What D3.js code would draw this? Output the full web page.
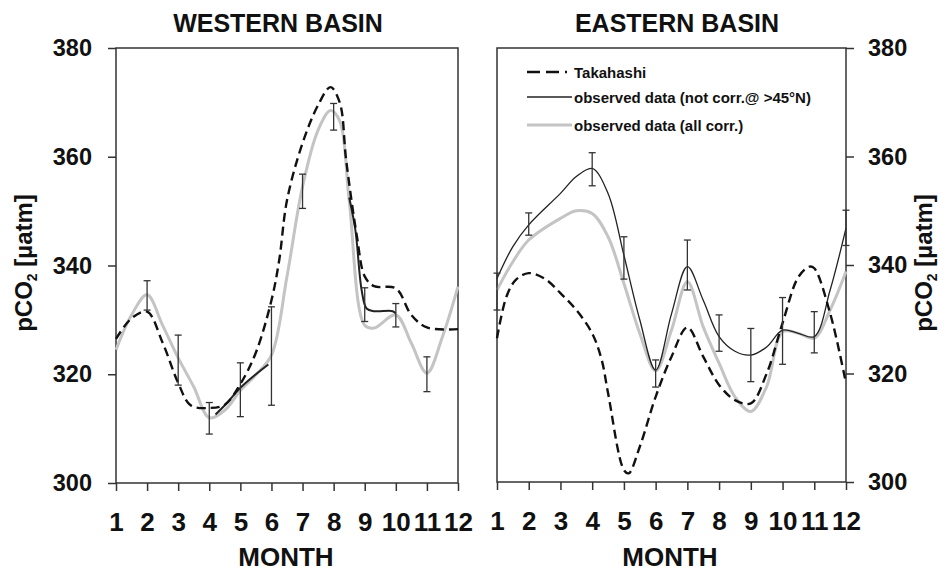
<!DOCTYPE html>
<html>
<head>
<meta charset="utf-8">
<script src="https://cdn.jsdelivr.net/npm/d3@7"></script>
<style>
  body { margin: 0; background: #fff; }
  svg { display: block; }
  text { font-family: 'Liberation Sans', Arial, sans-serif; font-weight: bold; fill: #111; }
</style>
</head>
<body>
<svg id="chart" width="940" height="573"></svg>
<script>
// month ticks and pCO2 ticks
const months = d3.range(1, 13);
const pco2Ticks = [300, 320, 340, 360, 380];

// WESTERN BASIN, [month, pCO2]
const westTakahashi = [[1, 326.5], [1.5, 330.3], [2, 331.5], [2.5, 325.8], [3, 318.4], [3.4, 314.3], [4, 313.8],
  [4.5, 314.4], [5, 318.2], [5.5, 324], [6, 333.6], [6.25, 341], [6.5, 352], [7, 362.5], [7.5, 369.5], [7.9, 372.8],
  [8.2, 369.9], [8.4, 359.5], [8.75, 345.3], [9, 338], [9.3, 336.2], [10, 335.8], [10.5, 330.9], [11, 328.6], [12, 328.3]];
const westAllCorr = [[1, 324.5], [1.5, 330.9], [2, 334.6], [2.5, 329], [3, 323], [3.5, 317.7], [4, 312], [4.5, 313.4],
  [5, 317], [5.5, 319.9], [6, 323.5], [6.5, 338], [7, 354.5], [7.5, 364.9], [7.9, 368.5], [8.2, 366.5], [8.5, 352],
  [9, 329], [9.3, 328.5], [10, 330.9], [10.5, 325.7], [11, 320.2], [11.5, 326.9], [12, 336.1]];
// not corrected data only shows where it leaves the corrected curve
const westNotCorr = [
  [[4.2, 312.6], [4.5, 314.3], [5, 317.5], [5.5, 320], [5.9, 321.8]],
  [[8.5, 352.5], [8.7, 346.5], [8.9, 335.5], [9.06, 332.1], [9.3, 331.6], [9.9, 331.6], [10, 331.2]]
];
const westErrMonth = [2, 3, 4, 5, 6, 7, 8, 9, 10, 11];
const westErrLow = [331.8, 318, 309, 312.2, 314.3, 350.5, 364.9, 329.7, 328.7, 316.8];
const westErrHigh = [337.2, 327.2, 314.8, 322.1, 332.4, 356.8, 369.8, 335.9, 333, 323.2];

// EASTERN BASIN
const eastTakahashi = [[1, 326.5], [1.3, 334.2], [1.6, 337.3], [2, 338.5], [2.5, 337.5], [3, 334.8], [3.5, 331.7],
  [4, 327.4], [4.3, 322.5], [4.5, 316.4], [5, 302.2], [5.15, 301.6], [5.5, 306.5], [6, 315.7], [6.5, 323.1],
  [7, 328.5], [7.5, 323.1], [8, 317.9], [8.5, 315.1], [9, 314.5], [9.5, 320], [10, 329.3], [10.5, 337.8],
  [10.85, 339.7], [11, 339.4], [11.5, 331.1], [12, 318.2]];
const eastAllCorr = [[1, 335.4], [1.5, 340.6], [2, 344.6], [3, 348.6], [3.5, 350], [4, 349.5], [4.5, 345.2],
  [5, 336.6], [5.5, 327.4], [6, 320.5], [6.5, 328], [7, 336.9], [7.5, 328.6], [8, 321.9], [8.5, 315.7], [9, 313],
  [9.5, 317.6], [10, 327.7], [10.5, 327.4], [11, 326.5], [11.5, 331.7], [12, 338.8]];
const eastNotCorr = [[[1, 337.5], [1.5, 343.4], [2, 347.4], [3, 353.2], [3.5, 356.3], [4, 357.8], [4.5, 353.2],
  [5, 341.8], [5.5, 329.9], [6, 320.6], [6.5, 331], [7, 339.7], [7.5, 333.5], [8, 326.8], [8.5, 324.1], [9, 323.4],
  [9.5, 324.9], [10, 328], [10.5, 327.4], [11, 326.8], [11.5, 335.4], [12, 346.8]]];
const eastErrMonth = [1, 2, 4, 5, 6, 7, 8, 9, 10, 11, 12];
const eastErrLow = [331.7, 345.5, 354.6, 337.4, 317.5, 335.4, 324.1, 318.5, 321.7, 323.8, 343.6];
const eastErrHigh = [338.5, 349.6, 360.7, 345.2, 322.5, 344.6, 330.8, 328.3, 334, 331.4, 350.1];

const legendLabels = ['Takahashi', 'observed data (not corr.@ >45°N)', 'observed data (all corr.)'];

const svg = d3.select('#chart');
const dash = '9,5';

function drawPanel(p) {
  const x = d3.scaleLinear().domain([1, 12]).range([p.left, p.right]);
  const y = d3.scaleLinear().domain([300, 380]).range([p.bottom, p.top]);
  const g = svg.append('g');

  // axes
  const yAxis = p.side === 'left' ? d3.axisLeft(y) : d3.axisRight(y);
  g.append('g')
    .attr('transform', `translate(${p.side === 'left' ? p.left : p.right}, 0)`)
    .call(yAxis.tickValues(pco2Ticks).tickSize(8).tickPadding(p.side === 'left' ? 16 : 14).tickFormat(d3.format('d')))
    .call(a => a.select('.domain').remove())
    .call(a => a.selectAll('line').attr('stroke', '#333').attr('stroke-width', 1.5))
    .call(a => a.selectAll('text').attr('font-size', 23.5).attr('fill', '#111')
      .attr('font-family', "'Liberation Sans', Arial, sans-serif"));

  g.append('g')
    .attr('transform', `translate(0, ${p.bottom})`)
    .call(d3.axisBottom(x).tickValues(months).tickSize(8).tickPadding(22))
    .call(a => a.select('.domain').remove())
    .call(a => a.selectAll('line').attr('stroke', '#333').attr('stroke-width', 1.5))
    .call(a => a.selectAll('text').attr('font-size', 26).attr('fill', '#111')
      .attr('font-family', "'Liberation Sans', Arial, sans-serif"));

  g.append('rect')
    .attr('x', p.left).attr('y', p.top)
    .attr('width', p.right - p.left).attr('height', p.bottom - p.top)
    .attr('fill', 'none').attr('stroke', '#333').attr('stroke-width', 1.5);

  const line = d3.line()
    .x(d => x(d[0]))
    .y(d => y(d[1]))
    .curve(d3.curveCatmullRom.alpha(0.5));

  g.append('path')
    .attr('d', line(p.allCorr))
    .attr('fill', 'none').attr('stroke', '#c4c4c4').attr('stroke-width', 3);

  p.notCorr.forEach(seg => {
    g.append('path')
      .attr('d', line(seg))
      .attr('fill', 'none').attr('stroke', '#222').attr('stroke-width', p.blackWidth);
  });

  g.append('path')
    .attr('d', line(p.takahashi))
    .attr('fill', 'none').attr('stroke', '#111').attr('stroke-width', 2.4)
    .attr('stroke-dasharray', dash);

  // error bars
  const bars = g.selectAll('.err')
    .data(p.errMonth.map((m, i) => ({ m, lo: p.errLow[i], hi: p.errHigh[i] })))
    .enter().append('g')
    .attr('stroke', '#333').attr('stroke-width', 1.3);
  bars.append('line')
    .attr('x1', d => x(d.m)).attr('x2', d => x(d.m))
    .attr('y1', d => y(d.lo)).attr('y2', d => y(d.hi));
  bars.append('line')
    .attr('x1', d => x(d.m) - 3.5).attr('x2', d => x(d.m) + 3.5)
    .attr('y1', d => y(d.lo)).attr('y2', d => y(d.lo));
  bars.append('line')
    .attr('x1', d => x(d.m) - 3.5).attr('x2', d => x(d.m) + 3.5)
    .attr('y1', d => y(d.hi)).attr('y2', d => y(d.hi));

  svg.append('text')
    .attr('x', p.titleX).attr('y', 32)
    .attr('text-anchor', 'middle').attr('font-size', 25)
    .text(p.title);

  svg.append('text')
    .attr('x', p.monthX).attr('y', 566)
    .attr('text-anchor', 'middle').attr('font-size', 26)
    .text('MONTH');

  const yl = svg.append('text')
    .attr('transform', `translate(${p.labelX}, 263) rotate(-90)`)
    .attr('text-anchor', 'middle').attr('font-size', 24);
  yl.append('tspan').text('pCO');
  yl.append('tspan').attr('font-size', 14).attr('dy', 5).text('2');
  yl.append('tspan').attr('dy', -5).text(' [µatm]');

  return { x, y, g };
}

drawPanel({
  title: 'WESTERN BASIN', titleX: 278, monthX: 286, labelX: 32,
  left: 116, right: 458, top: 48, bottom: 483, side: 'left', blackWidth: 2,
  takahashi: westTakahashi, allCorr: westAllCorr, notCorr: westNotCorr,
  errMonth: westErrMonth, errLow: westErrLow, errHigh: westErrHigh
});

drawPanel({
  title: 'EASTERN BASIN', titleX: 677, monthX: 670, labelX: 932,
  left: 497, right: 846, top: 48, bottom: 482, side: 'right', blackWidth: 1.3,
  takahashi: eastTakahashi, allCorr: eastAllCorr, notCorr: eastNotCorr,
  errMonth: eastErrMonth, errLow: eastErrLow, errHigh: eastErrHigh
});

// legend
const legend = svg.append('g').attr('transform', 'translate(527, 0)');
const legendRows = [
  { y: 72, stroke: '#111', width: 2.4, dash: '13,6', len: 40 },
  { y: 97, stroke: '#222', width: 1.3, dash: null, len: 45 },
  { y: 125, stroke: '#c4c4c4', width: 3, dash: null, len: 45 }
];
legendRows.forEach((r, i) => {
  legend.append('line')
    .attr('x1', 0).attr('x2', r.len).attr('y1', r.y).attr('y2', r.y)
    .attr('stroke', r.stroke).attr('stroke-width', r.width)
    .attr('stroke-dasharray', r.dash);
  legend.append('text')
    .attr('x', 47).attr('y', r.y + 6)
    .attr('font-size', 15).attr('fill', '#222')
    .text(legendLabels[i]);
});
</script>
</body>
</html>
